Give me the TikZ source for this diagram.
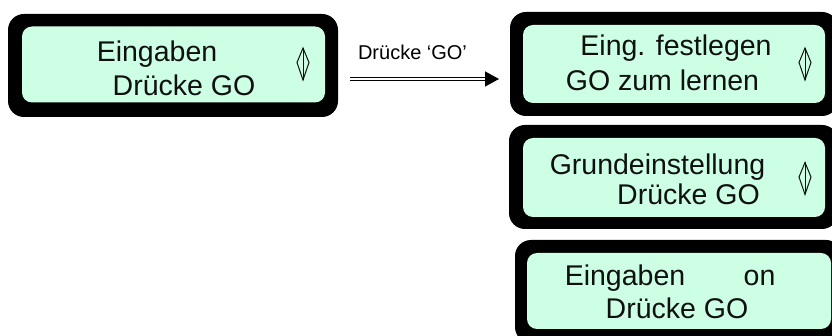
\documentclass[tikz,border=0pt]{standalone}
\usepackage{fontspec}
\setmainfont{Liberation Sans}
\usetikzlibrary{positioning, calc, arrows.meta}
\definecolor{LcdGreen}{HTML}{CCFFE4}
\definecolor{LcdFrame}{HTML}{000000}
\definecolor{LcdText}{HTML}{101010}

\tikzset{
  frame/.style={rectangle, rounded corners=16pt, fill=LcdFrame, inner sep=0pt, outer sep=0pt},
  screen/.style={rectangle, rounded corners=10pt, fill=LcdGreen, inner sep=0pt, outer sep=0pt},
  lcdtext/.style={anchor=base, inner sep=0pt, text=LcdText, font=\fontsize{28.5}{34}\selectfont},
  updown/.pic={
    \draw[line width=1pt, LcdText] (0,-16) -- (0,16);
    \draw[line width=1pt, LcdText] (0,-16) -- (6,-1.5) -- (0,16) -- (-6,-1.5) -- cycle;
  }
}

\begin{document}
\begin{tikzpicture}[x=1pt, y=-1pt]
          \clip (0,0) rectangle (832,336);

          % Frames
          \node[frame, minimum width=330pt, minimum height=103pt] (f1) at (173,65.5) {};
          \node[frame, minimum width=328pt, minimum height=104pt] (f2) at (674,64) {};
          \node[frame, minimum width=329pt, minimum height=104pt] (f3) at (673.5,177) {};
          \node[frame, minimum width=327pt, minimum height=103pt] (f4) at (678.5,291.5) {};

          % Screens
          \node[screen, minimum width=303pt, minimum height=76pt] (s1) at (173.5,64.5) {};
          \node[screen, minimum width=302pt, minimum height=78pt] (s2) at (674,64) {};
          \node[screen, minimum width=302pt, minimum height=79pt] (s3) at (674,177.5) {};
          \node[screen, minimum width=304pt, minimum height=76pt] (s4) at (679,291) {};

          % Texts
          \node[lcdtext] (t1a) at (157,62) {Eingaben};
          \node[lcdtext] (t1b) at (184,96) {Drücke GO};
          \node[lcdtext] (t2a) at (676,56) {Eing. festlegen};
          \node[lcdtext] (t2b) at (662.5,91) {GO zum lernen};
          \node[lcdtext] (t3a) at (657.5,175) {Grundeinstellung};
          \node[lcdtext] (t3b) at (688.5,205) {Drücke GO};
          \node[lcdtext] (t4a) at (625,286) {Eingaben};
          \node[lcdtext] (t4c) at (759.5,286) {on};
          \node[lcdtext] (t4b) at (677,319) {Drücke GO};

          % Scroll marks
          \pic at (303,64) {updown};
          \pic at (805,64) {updown};
          \pic at (805,178.5) {updown};

          % Arrow
          \node[anchor=base, inner sep=0pt, font=\fontsize{20}{24}\selectfont] (go) at (412.5,60) {Drücke ‘GO’};
          \draw[double, double distance=1.6pt, line width=1.3pt, shorten <=12pt, shorten >=11pt,
                -{Triangle[length=14pt, width=15pt]}]
            ([yshift=-13.5pt]f1.east) -- ([yshift=-13.5pt]f1.east -| f2.west);
        \end{tikzpicture}
\end{document}
